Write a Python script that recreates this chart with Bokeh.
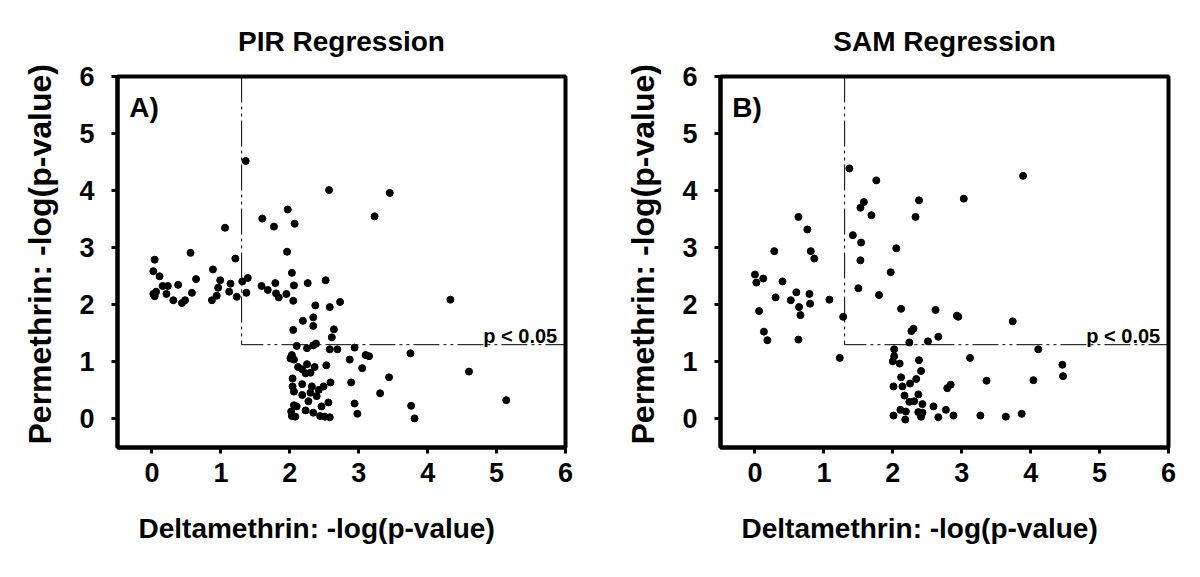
import math
from bokeh.plotting import figure
from bokeh.layouts import row
from bokeh.models import Range1d, FixedTicker, Label, ColumnDataSource, Title
from bokeh.embed import file_html
from bokeh.resources import INLINE

# ---------------- data ----------------
pir_delta = [1.36, 1.60, 1.77, 1.97, 2.07, 1.06, 2.57, 3.45, 3.23,
             0.04, 0.02, 0.11, 0.02, 0.06, 0.04, 0.155, 0.23, 0.21, 0.31, 0.38, 0.435, 0.48,
             0.56, 0.58, 0.64, 0.885, 0.87, 0.94, 0.96, 0.99, 1.14, 1.12, 1.21, 1.23, 1.31,
             1.37, 1.39,
             1.96, 2.03, 1.59, 1.68, 1.79, 1.80, 1.84, 1.95, 2.06, 2.05, 2.26, 2.52, 2.37,
             2.58, 2.73, 2.19, 2.34, 2.34, 2.64, 2.05, 2.61, 2.10, 2.25, 2.34, 2.38, 2.58,
             2.69, 2.94, 3.10, 3.15, 2.87, 3.75, 4.33, 2.02, 2.06, 2.12, 2.18, 2.25, 2.36,
             2.23, 2.30, 2.53, 3.05, 3.44, 4.60, 2.04, 2.18, 2.04, 2.06, 2.32, 2.42, 2.49,
             2.59, 2.89, 2.18, 2.30, 2.39, 3.31, 2.27, 2.46, 2.56, 2.94, 5.14, 2.06, 2.10,
             2.02, 2.03, 2.23, 2.34, 2.44, 2.51, 2.58, 2.98, 3.76, 3.81, 2.01, 2.03, 2.08]
pir_perm = [4.52, 3.51, 3.37, 3.67, 3.42, 3.35, 4.01, 3.96, 3.55,
            2.79, 2.59, 2.50, 2.19, 2.23, 2.15, 2.33, 2.33, 2.19, 2.08, 2.35, 2.03, 2.08,
            2.91, 2.21, 2.45, 2.62, 2.08, 2.16, 2.30, 2.43, 2.37, 2.23, 2.81, 2.14, 2.41,
            2.21, 2.47,
            2.93, 2.56, 2.33, 2.26, 2.38, 2.20, 2.13, 2.19, 2.34, 2.07, 2.38, 2.43, 1.99,
            1.96, 2.05, 1.72, 1.78, 1.63, 1.57, 1.56, 1.43, 1.28, 1.24, 1.29, 1.32, 1.22,
            1.22, 1.25, 1.12, 1.10, 1.04, 1.15, 2.09, 1.09, 1.04, 0.91, 0.87, 0.96, 0.91,
            0.80, 0.81, 0.94, 0.89, 0.73, 0.83, 0.71, 0.61, 0.57, 0.48, 0.57, 0.51, 0.57,
            0.64, 0.64, 0.42, 0.46, 0.40, 0.45, 0.31, 0.22, 0.29, 0.27, 0.33, 0.24, 0.22,
            0.13, 0.05, 0.15, 0.11, 0.05, 0.04, 0.03, 0.09, 0.23, 0.01, 1.06, 1.12, 0.04]

sam_delta = [1.37, 1.76, 1.58, 1.53, 1.69, 0.63, 0.76, 1.42, 3.89, 2.38, 3.03, 2.33,
             0.00, 0.02, 0.12, 0.06, 0.13, 0.18, 0.28, 0.30, 0.40, 0.52, 0.60, 0.64, 0.66,
             0.63, 0.79, 0.80, 0.81, 0.86, 1.08, 1.23, 1.28, 1.50, 1.54, 1.53, 1.80,
             2.05, 1.97, 2.12, 2.62, 2.95, 2.93, 3.74, 2.30, 2.27, 2.66, 2.24, 2.51, 2.02,
             4.11, 2.02, 2.00, 2.10, 2.38, 3.12, 4.46, 4.47, 2.41, 2.12, 2.34, 3.36, 4.04,
             2.01, 2.14, 2.25, 2.79, 2.84, 2.17, 2.37, 2.24, 2.31, 2.43, 2.59, 2.77, 2.11,
             2.19, 2.37, 2.43, 2.01, 2.18, 2.41, 2.66, 2.88, 3.27, 3.64, 3.87]
sam_perm = [4.39, 4.18, 3.80, 3.70, 3.57, 3.54, 3.32, 3.22, 4.26, 3.83, 3.86, 3.54,
            2.53, 2.39, 2.46, 1.89, 1.53, 1.38, 2.94, 2.13, 2.41, 2.08, 2.22, 1.96, 1.82,
            1.39, 2.19, 2.02, 2.94, 2.81, 2.09, 1.07, 1.79, 2.29, 3.09, 2.78, 2.17,
            2.99, 2.57, 1.93, 1.91, 1.79, 1.81, 1.71, 1.58, 1.54, 1.44, 1.34, 1.36, 1.22,
            1.22, 1.10, 1.01, 0.97, 1.03, 1.07, 0.95, 0.75, 0.84, 0.73, 0.70, 0.67, 0.68,
            0.57, 0.57, 0.62, 0.54, 0.60, 0.41, 0.43, 0.30, 0.31, 0.26, 0.22, 0.16, 0.16,
            0.13, 0.12, 0.11, 0.06, -0.01, 0.04, 0.03, 0.06, 0.06, 0.04, 0.09]

titles = ["PIR Regression", "SAM Regression"]
panel_tags = ["A)", "B)"]
x_title = "Deltamethrin: -log(p-value)"
y_title = "Permethrin: -log(p-value)"
tick_values = [0, 1, 2, 3, 4, 5, 6]
axis_min, axis_max = -0.5, 6
threshold = -math.log10(0.05)
threshold_text = "p < 0.05"

FONT = "Liberation Sans"
INK = "#000000"


def make_panel(xs, ys, title, tag, width, bl, br):
    p = figure(width=width, height=572,
               x_range=Range1d(axis_min, axis_max), y_range=Range1d(axis_min, axis_max),
               output_backend="svg", toolbar_location=None,
               min_border_left=bl, min_border_right=br,
               min_border_top=76, min_border_bottom=125)
    p.title.text = title
    p.title.align = "center"
    p.title.text_font = FONT
    p.title.text_font_style = "bold"
    p.title.text_font_size = "28px"
    p.title.text_color = INK
    p.title.standoff = 40
    p.xgrid.visible = False
    p.ygrid.visible = False
    p.outline_line_color = INK
    p.outline_line_width = 4
    p.outline_line_alpha = 1
    for ax in (p.xaxis[0], p.yaxis[0]):
        ax.ticker = FixedTicker(ticks=tick_values)
        ax.major_tick_in = 0
        ax.major_tick_out = 6
        ax.major_tick_line_width = 3
        ax.major_tick_line_color = INK
        ax.minor_tick_line_color = None
        ax.axis_line_width = 4
        ax.axis_line_color = INK
        ax.major_label_text_font = FONT
        ax.major_label_text_font_style = "bold"
        ax.major_label_text_font_size = "27px"
        ax.major_label_text_color = INK
    p.xaxis[0].major_label_standoff = 9
    p.yaxis[0].major_label_standoff = 17

    # axis titles, as side titles (slightly off-centre as in the original figure)
    p.add_layout(Title(text=x_title, align="left", offset=21, standoff=52,
                       text_font=FONT, text_font_style="bold", text_font_size="28px",
                       text_color=INK), "below")
    p.add_layout(Title(text=y_title, align="left", offset=3, standoff=38,
                       text_font=FONT, text_font_style="bold", text_font_size="32px",
                       text_color=INK), "left")

    # threshold lines (p = 0.05)
    p.line(x=[threshold, threshold, axis_max], y=[axis_max, threshold, threshold],
           line_color=INK, line_width=1, line_dash="26 4 3 4 3 4")

    src = ColumnDataSource(dict(x=xs, y=ys))
    p.scatter("x", "y", source=src, size=7, fill_color=INK, line_color=INK)

    p.add_layout(Label(x=-0.33, y=5.72, text=tag, text_font=FONT, text_font_style="bold",
                       text_font_size="28px", text_baseline="top", text_align="left",
                       text_color=INK))
    p.add_layout(Label(x=5.88, y=1.46, text=threshold_text, text_font=FONT,
                       text_font_style="bold", text_font_size="20px",
                       text_baseline="alphabetic", text_align="right", text_color=INK))
    return p


p1 = make_panel(pir_delta, pir_perm, titles[0], panel_tags[0], 603, 115, 38)
p2 = make_panel(sam_delta, sam_perm, titles[1], panel_tags[1], 590, 115, 25)

layout = row(p1, p2)
open("out.html", "w").write(file_html(layout, INLINE))
